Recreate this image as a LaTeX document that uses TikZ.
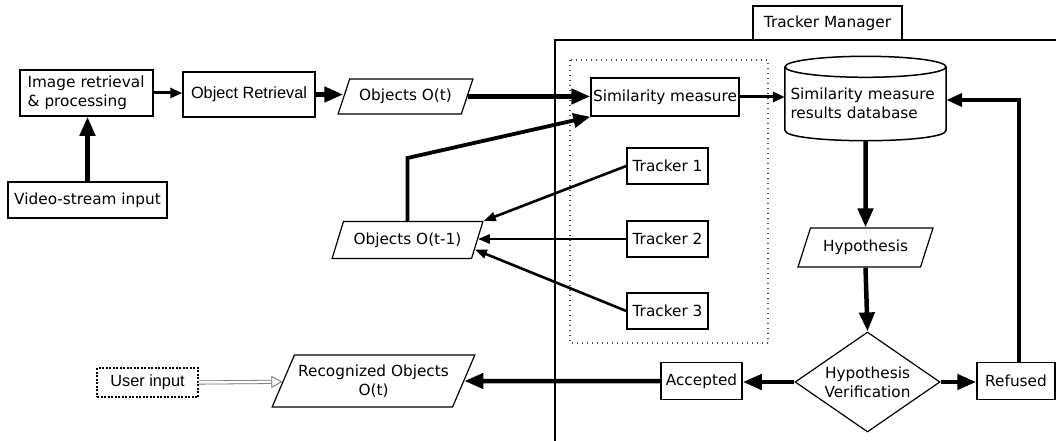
\documentclass[tikz,border=0pt]{standalone}
\usepackage{fontspec}
\setmainfont{DejaVu Sans}
\newfontfamily\arialfont{Liberation Sans}
\usetikzlibrary{shapes.geometric,arrows.meta,calc}

\begin{document}
\begin{tikzpicture}[x=1pt,y=-1pt,
  font=\fontsize{15.3}{19}\selectfont,
  box/.style={draw, line width=1.5pt, fill=white, inner sep=0pt, align=center},
  para/.style={trapezium, trapezium left angle=57, trapezium right angle=123,
    trapezium stretches=true, draw, line width=1.2pt, fill=white,
    inner sep=0pt, align=center},
  arialtext/.style={font=\arialfont\fontsize{16.3}{19}\selectfont},
  bigarrow/.style={line width=4.5pt, -{Triangle[length=19pt,width=15pt]}},
  midarrow/.style={line width=3pt, -{Triangle[length=12pt,width=10pt]}},
  thinarrow/.style={line width=2.6pt, -{Triangle[length=12pt,width=9pt]}},
  hollowarrow/.style={draw=black!55, double=white, double distance=2.5pt,
    line width=0.8pt, -{Triangle[open,length=11pt,width=12pt]}}
]
\clip (0,0) rectangle (1056,441);
\fill[white] (0,0) rectangle (1056,441);

% Tracker Manager frame
\draw[line width=2pt] (555,445) -- (555,40) -- (1060,40);
\node[box, minimum width=149pt, minimum height=34pt] (mgr) at (827.5,23) {Tracker Manager};

% dotted group around similarity measure and trackers
\draw[black!70, line width=1.2pt, dash pattern=on 1pt off 4pt] (570,60) rectangle (768,343);

% input chain
\node[box, minimum width=133pt, minimum height=46pt, text width=118pt, align=left] (img) at (86.5,93) {Image retrieval\\\& processing};
\node[box, arialtext, minimum width=132pt, minimum height=45pt] (obj) at (249,94.5) {Object Retrieval};
\node[box, minimum width=159pt, minimum height=36pt] (video) at (87.5,200) {Video-stream input};
\node[para, minimum width=135pt, minimum height=35pt] (ot) at (405.5,96.5) {Objects O(t)};

% similarity measure and database
\node[box, minimum width=148pt, minimum height=38pt] (sim) at (665,97) {Similarity measure};
\node[inner sep=0pt, minimum width=161pt, minimum height=73pt, text width=150pt, align=left] (db) at (865.5,103.5) {Similarity measure\\results database};
\draw[line width=1.5pt] (db.north) ellipse [x radius=80.5, y radius=10.5];
\draw[line width=1.5pt] (db.north west) -- ($(db.south west)+(0,-10)$)
  .. controls ($(db.south west)+(0,4)$) and ($(db.south east)+(0,4)$) .. ($(db.south east)+(0,-10)$)
  -- (db.north east);

% trackers
\node[box, minimum width=81pt, minimum height=36pt] (t1) at (667.5,166) {Tracker 1};
\node[box, minimum width=81pt, minimum height=36pt] (t2) at (667.5,239) {Tracker 2};
\node[box, minimum width=81pt, minimum height=36pt] (t3) at (667.5,311) {Tracker 3};
\node[para, minimum width=151pt, minimum height=37pt] (otm) at (407.5,240) {Objects O(t-1)};

% hypothesis handling
\node[para, minimum width=135pt, minimum height=39pt] (hyp) at (865.5,247.5) {Hypothesis};
\node[diamond, draw, line width=1.2pt, fill=white, aspect=1.45, inner sep=0pt,
  minimum width=145pt, minimum height=100pt, align=center] (dia) at (867.5,382) {Hypothesis\\Verification};
\node[box, minimum width=81pt, minimum height=37pt] (acc) at (701.5,381) {Accepted};
\node[box, minimum width=78pt, minimum height=37pt] (ref) at (1016,381) {Refused};

% output
\node[para, minimum width=203pt, minimum height=52pt] (rec) at (373.5,381) {Recognized Objects\\O(t)};
\node[box, arialtext, dash pattern=on 2pt off 1.5pt, line width=1.2pt, minimum width=101pt, minimum height=29pt] (user) at (147.5,382.5) {User input};

% connectors
\draw[bigarrow] (video.north) -- (video.north |- img.south);
\draw[midarrow] (img.east) -- (img.east -| obj.west);
\draw[bigarrow] (obj.east) -- (obj.east -| ot.west);
\draw[bigarrow] (ot.east) -- (ot.east -| sim.west);
\draw[midarrow] (sim.east) -- (sim.east -| db.west);

\coordinate (bend) at (407.5,158);
\draw[line width=3.8pt, -{Triangle[length=17pt,width=14pt]}] (otm.north) -- (bend) -- (sim.south west);

\draw[thinarrow] (t1.west) -- (otm.top right corner);
\draw[thinarrow] (t2.west) -- (t2.west -| otm.east);
\draw[thinarrow] (t3.west) -- ($(otm.east)!0.5!(otm.bottom right corner)$);

\draw[bigarrow] (db.south) -- (hyp.north);
\draw[bigarrow] (hyp.south) -- (dia.north);
\draw[bigarrow] (dia.west) -- (dia.west -| acc.east);
\draw[bigarrow] (dia.east) -- (dia.east -| ref.west);

\coordinate (rcorner) at (1019,100);
\draw[line width=3.8pt, -{Triangle[length=16pt,width=13pt]}] (ref.north -| rcorner) -- (rcorner) -- (rcorner -| db.east);

\draw[bigarrow] (acc.west) -- (rec);
\draw[hollowarrow] (user.east) -- (rec);
\end{tikzpicture}
\end{document}
